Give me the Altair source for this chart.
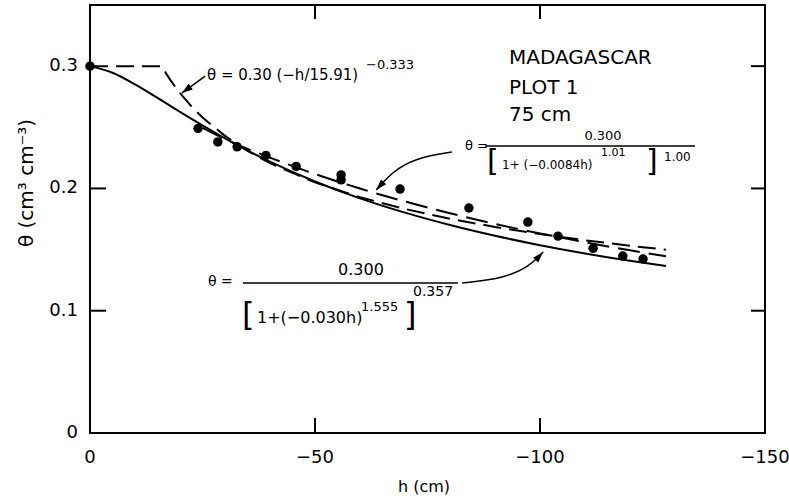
import altair as alt
import pandas as pd

# ---- measured points (h in cm, theta in cm3/cm3) ----
meas_h = [0, -24.0, -28.4, -32.7, -39.1, -45.8, -55.8, -55.8, -68.9, -84.2, -97.3, -104.0, -111.8, -118.4, -122.9]
meas_theta = [0.300, 0.249, 0.238, 0.234, 0.227, 0.218, 0.211, 0.207, 0.1995, 0.184, 0.1725, 0.161, 0.151, 0.1447, 0.1423]

# ---- solid curve (van Genuchten, n=1.555) ----
vg_h = [0, -5, -10, -15, -20, -25, -30, -40, -50, -60, -70, -80, -90, -100, -110, -120, -128]
vg_theta = [0.300, 0.2946, 0.2851, 0.2740, 0.2626, 0.2515, 0.2409, 0.2219, 0.2057, 0.1919, 0.1802,
            0.1701, 0.1613, 0.1536, 0.1468, 0.1408, 0.1365]

# ---- dashed curve (Brooks-Corey) ----
bc_h = [0, -15.91, -17, -18, -19, -20, -22.5, -25, -30, -35, -40, -50, -60, -70, -80, -90, -100, -110, -120, -128]
bc_theta = [0.300, 0.300, 0.2935, 0.2879, 0.2828, 0.278, 0.2673, 0.258, 0.243, 0.2307, 0.2207, 0.2049,
            0.1928, 0.1832, 0.1752, 0.1685, 0.1627, 0.1576, 0.1531, 0.1499]

# ---- dashed curve (n=1.01) ----
vg2_h = [-25, -30, -40, -50, -60, -70, -80, -90, -100, -110, -120, -128]
vg2_theta = [0.2495, 0.2403, 0.2252, 0.2118, 0.1999, 0.1893, 0.1797, 0.1710, 0.1632, 0.1560, 0.1494, 0.1445]

# ---- tick values and labels ----
x_ticks = [0, -50, -100, -150]
x_tick_labels = ["0", "\u221250", "\u2212100", "\u2212150"]
y_ticks = [0, 0.1, 0.2, 0.3]
y_tick_labels = ["0", "0.1", "0.2", "0.3"]
inner_x_ticks = [-50, -100]
inner_y_ticks_left = [0.1, 0.2]
inner_y_ticks_right = [0.1, 0.2, 0.3]
x_title = "h (cm)"
y_title = "\u03b8 (cm\u00b3 cm\u207b\u00b3)"

# ---- annotation arrows (data coordinates) ----
arrow_id = [1, 1, 2, 2, 2, 2, 3, 3, 3, 3]
arrow_order = [0, 1, 0, 1, 2, 3, 0, 1, 2, 3]
arrow_h = [-25.6, -20.4, -80.4, -72.2, -67.1, -63.6, -82.7, -92.2, -97.8, -100.7]
arrow_t = [0.2919, 0.278, 0.2297, 0.2248, 0.2134, 0.1987, 0.1226, 0.1267, 0.1365, 0.148]
head_h = [-20.4, -63.6, -100.7]
head_t = [0.278, 0.1987, 0.148]
head_angle = [234, 222, 43]

W, H = 675, 428
FONT = "DejaVu Sans"

xscale = alt.Scale(domain=[0, -150], nice=False)
yscale = alt.Scale(domain=[0, 0.35], nice=False)


def X(field):
    return alt.X(field, type="quantitative", scale=xscale, axis=None)


def Y(field):
    return alt.Y(field, type="quantitative", scale=yscale, axis=None)


vg_df = pd.DataFrame({"h": vg_h, "t": vg_theta, "i": range(len(vg_h))})
bc_df = pd.DataFrame({"h": bc_h, "t": bc_theta, "i": range(len(bc_h))})
vg2_df = pd.DataFrame({"h": vg2_h, "t": vg2_theta, "i": range(len(vg2_h))})
pts_df = pd.DataFrame({"h": meas_h, "t": meas_theta})

solid = alt.Chart(vg_df).mark_line(color="black", strokeWidth=2, interpolate="monotone").encode(
    x=X("h"), y=Y("t"), order="i:Q")
dash_bc = alt.Chart(bc_df).mark_line(color="black", strokeWidth=2, strokeDash=[18, 8]).encode(
    x=X("h"), y=Y("t"), order="i:Q")
dash_vg2 = alt.Chart(vg2_df).mark_line(color="black", strokeWidth=2, strokeDash=[22, 9],
                                       interpolate="monotone").encode(
    x=X("h"), y=Y("t"), order="i:Q")
points = alt.Chart(pts_df).mark_circle(color="black", size=90, opacity=1).encode(x=X("h"), y=Y("t"))

# inward ticks
bt = alt.Chart(pd.DataFrame({"h": inner_x_ticks})).mark_rule(color="black", strokeWidth=2).encode(
    x=X("h"), y=alt.value(H), y2=alt.value(H - 15))
tt = alt.Chart(pd.DataFrame({"h": inner_x_ticks})).mark_rule(color="black", strokeWidth=2).encode(
    x=X("h"), y=alt.value(0), y2=alt.value(14))
lt = alt.Chart(pd.DataFrame({"t": inner_y_ticks_left})).mark_rule(color="black", strokeWidth=2).encode(
    y=Y("t"), x=alt.value(0), x2=alt.value(16))
rt = alt.Chart(pd.DataFrame({"t": inner_y_ticks_right})).mark_rule(color="black", strokeWidth=2).encode(
    y=Y("t"), x=alt.value(W), x2=alt.value(W - 14))

# tick labels (positioned through the scales)
xl = alt.Chart(pd.DataFrame({"h": x_ticks, "s": x_tick_labels})).mark_text(
    fontSize=18, font=FONT, align="center", baseline="middle", color="black").encode(
    x=X("h"), y=alt.value(H + 25), text="s:N")
yl = alt.Chart(pd.DataFrame({"t": y_ticks, "s": y_tick_labels})).mark_text(
    fontSize=18, font=FONT, align="right", baseline="middle", color="black").encode(
    y=Y("t"), x=alt.value(-12), text="s:N")
xt = alt.Chart(pd.DataFrame({"s": [x_title]})).mark_text(
    x=334, y=H + 54, fontSize=16, font=FONT, align="center", baseline="middle", color="black").encode(
    text="s:N")
yt = alt.Chart(pd.DataFrame({"s": [y_title]})).mark_text(
    x=-63, y=178, angle=270, fontSize=20, font=FONT, align="center", baseline="middle",
    color="black").encode(text="s:N")

# arrows
arr_df = pd.DataFrame({"id": arrow_id, "o": arrow_order, "h": arrow_h, "t": arrow_t})
arrows = alt.Chart(arr_df).mark_line(color="black", strokeWidth=1.5, interpolate="basis").encode(
    x=X("h"), y=Y("t"), detail="id:N", order="o:Q")
heads_df = pd.DataFrame({"h": head_h, "t": head_t, "a": head_angle})
heads = alt.Chart(heads_df).mark_point(shape="M0,0L-0.7,2.2L0.7,2.2Z", filled=True, color="black",
                                       size=100, opacity=1).encode(
    x=X("h"), y=Y("t"), angle=alt.Angle("a:Q", scale=None))


def txt(s, x, y, size=13, align="left", weight="normal"):
    return alt.Chart(pd.DataFrame({"s": [s]})).mark_text(
        x=x, y=y, fontSize=size, align=align, baseline="middle", font=FONT,
        fontWeight=weight, color="black").encode(text="s:N")


def hline(x1, x2, y):
    return alt.Chart(pd.DataFrame({"a": [0]})).mark_rule(color="black", strokeWidth=1.5).encode(
        x=alt.value(x1), x2=alt.value(x2), y=alt.value(y))


texts = [
    # Brooks-Corey label
    txt("\u03b8 = 0.30 (\u2212h/15.91)", 117, 70, 15),
    txt("\u22120.333", 276, 60, 13),
    # site label
    txt("MADAGASCAR", 419, 53, 20),
    txt("PLOT 1", 419, 83, 20),
    txt("75 cm", 419, 110, 20),
    # upper right formula
    txt("\u03b8 =", 375, 141, 13),
    txt("0.300", 513, 131, 13, "center"),
    txt("[", 397, 157, 30),
    txt("1+ (\u22120.0084h)", 412, 160, 12),
    txt("1.01", 511, 148, 11),
    txt("]", 556, 157, 30),
    txt("1.00", 574, 152, 12),
    # lower formula
    txt("\u03b8 =", 118, 277, 14),
    txt("0.300", 271, 265, 16, "center"),
    txt("[", 152, 310, 32),
    txt("1+(\u22120.030h)", 167, 313, 16),
    txt("1.555", 271, 302, 13),
    txt("]", 314, 310, 32),
    txt("0.357", 323, 287, 14),
]
rules = [hline(395, 605, 141), hline(153, 368, 278)]

chart = alt.layer(solid, dash_bc, dash_vg2, points, bt, tt, lt, rt, xl, yl, xt, yt,
                  arrows, heads, *rules, *texts).properties(
    width=W, height=H,
    padding={"left": 90, "top": 5, "right": 24, "bottom": 68},
    autosize=alt.AutoSizeParams(type="none"),
    background="white",
).configure_view(stroke="black", strokeWidth=2)

chart.save("out.html", embed_options={"renderer": "svg", "actions": False})
